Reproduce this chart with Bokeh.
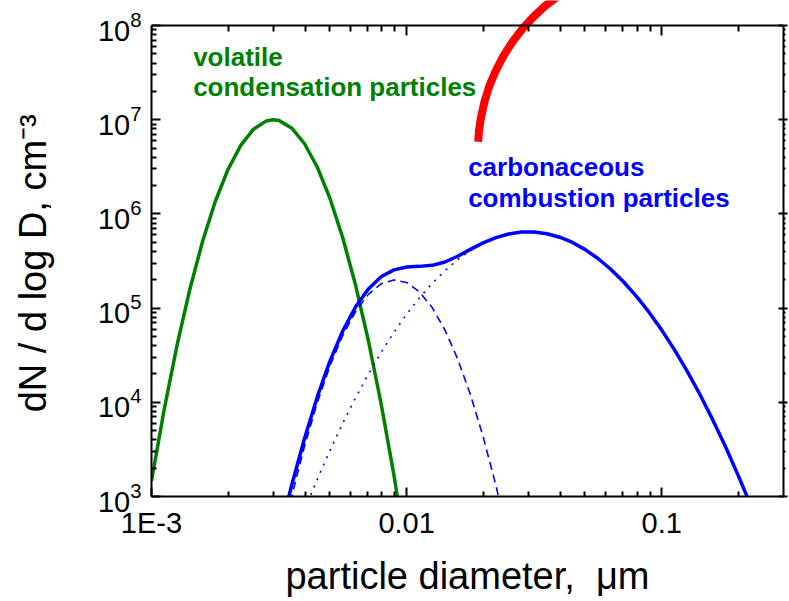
from bokeh.plotting import figure
from bokeh.models import (LogAxis, FixedTicker, CustomJSTickFormatter, Label,
                          Range1d, LogTickFormatter)
from bokeh.embed import file_html
from bokeh.resources import INLINE

# ---------------- data ----------------
x_ticks = [0.001, 0.01, 0.1]
x_tick_labels = ["1E-3", "0.01", "0.1"]
y_ticks = [1e3, 1e4, 1e5, 1e6, 1e7, 1e8]

# volatile condensation particles (green)
volatile_D = [0.001, 0.001122, 0.001259, 0.001413, 0.001585, 0.001778, 0.001995,
              0.002239, 0.002512, 0.002818, 0.003, 0.003162, 0.003548, 0.003981,
              0.004467, 0.005012, 0.005623, 0.00631, 0.007079, 0.007943, 0.008913, 0.01]
volatile_N = [1466, 8470, 40300, 157800, 509000, 1355000, 2967000,
              5350000, 7940000, 9720000, 10000000, 9800000, 8130000, 5560000,
              3130000, 1452000, 555000, 174600, 45300, 9660, 1698, 246]

# carbonaceous combustion particles (blue)
carb_D = [0.003162, 0.003548, 0.003981, 0.004467, 0.005012, 0.005623, 0.00631,
          0.007079, 0.007943, 0.008913, 0.01, 0.01122, 0.01259, 0.01413, 0.01585,
          0.01778, 0.01995, 0.02239, 0.02512, 0.02818, 0.03162, 0.03548, 0.03981,
          0.04467, 0.05012, 0.05623, 0.0631, 0.07079, 0.07943, 0.08913, 0.1,
          0.1122, 0.1259, 0.1413, 0.1585, 0.1778, 0.1995, 0.2239]
carb_total_N = [392, 1334, 4157, 11480, 27660, 57550, 103200,
                159900, 215000, 254600, 273100, 277500, 284500, 308600, 355400,
                420400, 492700, 560100, 612600, 641300, 642700, 616600, 566200,
                497600, 418000, 336400, 258800, 190500, 134300, 90520, 58400,
                36050, 21290, 12030, 6507, 3368, 1667, 790]
nucleation_D = [0.003162, 0.003548, 0.003981, 0.004467, 0.005012, 0.005623, 0.00631,
                0.007079, 0.007943, 0.008913, 0.01, 0.01122, 0.01259, 0.01413,
                0.01585, 0.01778, 0.01995, 0.02239, 0.02512, 0.02818]
nucleation_N = [252, 1009, 3436, 9954, 24550, 51520, 92040,
                139960, 181100, 199400, 187000, 149200, 101300, 58600,
                28830, 12080, 4305, 1306, 337, 74]
accumulation_N = [140, 325, 721, 1528, 3105, 6026, 11200,
                  19910, 33880, 55210, 86100, 128300, 183200, 250000, 326600,
                  408300, 488400, 558800, 612300, 641200, 642700, 616600, 566200,
                  497600, 418000, 336400, 258800, 190500, 134300, 90520, 58400,
                  36050, 21290, 12030, 6507, 3368, 1667, 790]

# red arc (decoration running out of the top of the box)
arc_D = [0.01907, 0.01921, 0.01954, 0.02018, 0.02109, 0.02236, 0.02393,
         0.02595, 0.0284, 0.03143, 0.03508, 0.04047]
arc_N = [5.83e6, 7.56e6, 1.043e7, 1.547e7, 2.278e7, 3.313e7, 4.74e7,
         6.675e7, 9.2e7, 1.24e8, 1.632e8, 2.185e8]

GREEN = "#008000"
BLUE = "#0000FF"
RED = "#FF0000"
FONT = "Liberation Sans"

X_MIN, X_MAX = 0.001, 0.3
Y_MIN, Y_BOX_TOP, Y_CANVAS_TOP = 1e3, 1e8, 1.845e8

# ---------------- figure ----------------
p = figure(width=789, height=601, x_axis_type="log", y_axis_type="log",
           x_range=Range1d(X_MIN, X_MAX), y_range=Range1d(Y_MIN, Y_CANVAS_TOP),
           output_backend="svg", toolbar_location=None,
           min_border_left=151, min_border_right=6, min_border_top=0,
           min_border_bottom=105)
p.outline_line_color = None
p.grid.visible = False
p.background_fill_color = "white"
p.border_fill_color = "white"

x_minor = [k * 10.0 ** e for e in (-3, -2, -1) for k in range(2, 10) if k * 10.0 ** e <= X_MAX]
y_minor = [k * 10.0 ** e for e in range(3, 8) for k in range(2, 10)]


def style_axis(ax, major_in=9, minor_in=5, major_out=0, minor_out=0):
    ax.axis_line_width = 2
    ax.axis_line_color = "black"
    ax.major_tick_line_color = "black"
    ax.minor_tick_line_color = "black"
    ax.major_tick_line_width = 2
    ax.minor_tick_line_width = 2
    ax.major_tick_in = major_in
    ax.major_tick_out = major_out
    ax.minor_tick_in = minor_in
    ax.minor_tick_out = minor_out
    ax.major_label_text_color = "black"
    ax.axis_label_text_color = "black"


xa = p.xaxis[0]
xa.ticker = FixedTicker(ticks=x_ticks, minor_ticks=x_minor)
xa.formatter = CustomJSTickFormatter(args=dict(labels=x_tick_labels),
                                     code="return labels[index];")
style_axis(xa)
xa.major_label_text_font = FONT
xa.major_label_text_font_size = "29px"
xa.major_label_standoff = 10
xa.axis_label = "particle diameter,\u00a0 \u03bcm"
xa.axis_label_text_font = FONT
xa.axis_label_text_font_size = "38px"
xa.axis_label_text_font_style = "normal"
xa.axis_label_standoff = 13

ya = p.yaxis[0]
ya.ticker = FixedTicker(ticks=y_ticks, minor_ticks=y_minor)
ya.formatter = LogTickFormatter()
ya.bounds = (Y_MIN, Y_BOX_TOP)
style_axis(ya)
ya.major_label_text_font = FONT
ya.major_label_text_font_size = "29px"
ya.major_label_standoff = 10
# trailing en space keeps the visible title centred on the box, as in the original
ya.axis_label = "dN / d log D, cm\u207b\u00b3\u2002\u00a0"
ya.axis_label_text_font = FONT
ya.axis_label_text_font_size = "38px"
ya.axis_label_text_font_style = "normal"
ya.axis_label_standoff = 41

# top edge of the box: an x axis pinned at N = 1e8
top = LogAxis(ticker=FixedTicker(ticks=x_ticks, minor_ticks=x_minor),
              major_label_text_font_size="1px", major_label_text_alpha=0,
              major_label_standoff=0, fixed_location=Y_BOX_TOP)
style_axis(top, major_in=10, minor_in=6)
p.add_layout(top, "above")

right = LogAxis(ticker=FixedTicker(ticks=y_ticks, minor_ticks=y_minor),
                major_label_text_font_size="1px", major_label_text_alpha=0,
                major_label_standoff=0, bounds=(Y_MIN, Y_BOX_TOP))
style_axis(right, major_in=5, minor_in=0, major_out=4, minor_out=2)
p.add_layout(right, "right")

# ---------------- curves ----------------
p.line(volatile_D, volatile_N, line_color=GREEN, line_width=3.5)
p.line(nucleation_D, nucleation_N, line_color=BLUE, line_width=1.6, line_dash="8 5")
p.line(carb_D, accumulation_N, line_color=BLUE, line_width=1.6, line_dash="2 6")
p.line(carb_D, carb_total_N, line_color=BLUE, line_width=3.5)
p.line(arc_D, arc_N, line_color=RED, line_width=8)

# ---------------- texts ----------------
def add_label(x, y, text, color, size="26px"):
    p.add_layout(Label(x=x, y=y, text=text, text_color=color, text_font=FONT,
                       text_font_size=size, text_font_style="bold",
                       text_align="left", text_baseline="alphabetic"))


add_label(0.001456, 4.67e7, "volatile", GREEN)
add_label(0.001456, 2.24e7, "condensation particles", GREEN)
add_label(0.01742, 3.16e6, "carbonaceous", BLUE)
add_label(0.01742, 1.48e6, "combustion particles", BLUE)

open("out.html", "w").write(file_html(p, INLINE))
